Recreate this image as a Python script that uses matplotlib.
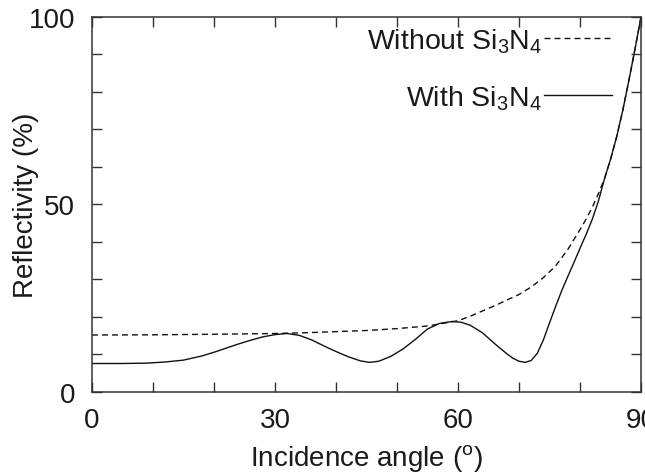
import matplotlib
matplotlib.use("Agg")
import matplotlib.pyplot as plt
from matplotlib.ticker import FixedLocator, FixedFormatter

plt.rcParams['font.family'] = ['Liberation Sans', 'DejaVu Sans']
plt.rcParams['mathtext.fontset'] = 'custom'
plt.rcParams['mathtext.rm'] = 'Liberation Sans'
plt.rcParams['mathtext.it'] = 'Liberation Sans'
plt.rcParams['mathtext.default'] = 'rm'

# Data
angle_with = [0, 5, 9, 12, 15, 18, 20, 22, 24, 26, 28, 30, 32, 34, 36, 38, 40, 42, 44,
              45.5, 47, 49, 51, 53, 55, 57, 59, 60.5, 62, 64, 66, 68, 69, 70, 71, 72, 73, 74,
              75, 76, 77, 78, 79, 80, 81, 82, 83, 84, 85, 86, 87, 88, 89, 90]
refl_with = [7.6, 7.6, 7.7, 8.0, 8.5, 9.6, 10.6, 11.7, 12.8, 13.8, 14.7, 15.3, 15.6, 15.1,
             13.9, 12.3, 10.8, 9.4, 8.3, 7.9, 8.2, 9.5, 11.5, 14.0, 16.8, 18.3, 18.8, 18.6,
             17.8, 15.8, 12.9, 10.2, 9.0, 8.2, 7.9, 8.4, 10.3, 13.9, 18.4, 22.8, 27.0, 30.8,
             34.5, 38.3, 42.0, 46.0, 50.8, 56.8, 62.0, 68.0, 75.0, 83.0, 91.3, 100.0]

angle_without = [0, 10, 20, 30, 35, 40, 45, 50, 55, 60, 62, 64, 66, 68, 70, 72, 74, 76,
                 78, 80, 81, 82, 83, 84, 85, 86, 87, 88, 89, 90]
refl_without = [15.2, 15.25, 15.4, 15.6, 15.8, 16.1, 16.4, 16.9, 17.6, 19.0, 20.2, 21.6,
                23.0, 24.5, 26.0, 28.0, 30.5, 33.6, 38.0, 43.3, 46.1, 49.2, 52.8, 56.8,
                62.0, 68.0, 75.0, 83.0, 91.3, 100.0]

x_ticks = [0, 10, 20, 30, 40, 50, 60, 70, 80, 90]
x_labels = ['0', '', '', '30', '', '', '60', '', '', '90']
y_ticks = [0, 10, 20, 30, 40, 50, 60, 70, 80, 90, 100]
y_labels = ['0', '', '', '', '', '50', '', '', '', '', '100']

label_without = 'Without Si$_3$N$_4$'
label_with = 'With Si$_3$N$_4$'

text_color = '#1a1a1a'
line_color = '#111111'
spine_color = '#333333'
fs = 20

fig = plt.figure(figsize=(6.45, 4.77), dpi=100)
ax = fig.add_axes([0.1426, 0.1761, 0.8512, 0.7862])

ax.plot(angle_without, refl_without, color=line_color, lw=1.0,
        linestyle=(0, (4.3, 2.9)), label=label_without)
ax.plot(angle_with, refl_with, color=line_color, lw=1.0, label=label_with)

ax.set_xlim(0, 90)
ax.set_ylim(0, 100)
ax.xaxis.set_major_locator(FixedLocator(x_ticks))
ax.xaxis.set_major_formatter(FixedFormatter(x_labels))
ax.yaxis.set_major_locator(FixedLocator(y_ticks))
ax.yaxis.set_major_formatter(FixedFormatter(y_labels))

ax.tick_params(direction='in', length=7, width=1.0, colors=spine_color,
               top=True, right=True, labelsize=fs, labelcolor=text_color)
ax.tick_params(axis='x', pad=11)
ax.tick_params(axis='y', pad=12)
for s in ax.spines.values():
    s.set_color(spine_color)
    s.set_linewidth(1.1)

ax.set_xlabel('Incidence angle ($^{\\rm o}$)', fontsize=fs, color=text_color, labelpad=6)
ax.set_ylabel('Reflectivity (%)', fontsize=fs, color=text_color)
ax.yaxis.set_label_coords(-0.097, 0.5)

leg = ax.legend(loc='upper right', bbox_to_anchor=(0.947, 0.975), frameon=False,
                markerfirst=False, fontsize=20.5, handlelength=2.4, handletextpad=0.05,
                labelspacing=1.0, borderpad=0, borderaxespad=0)
for t in leg.get_texts():
    t.set_color(text_color)

fig.savefig('out.png', dpi=100)
